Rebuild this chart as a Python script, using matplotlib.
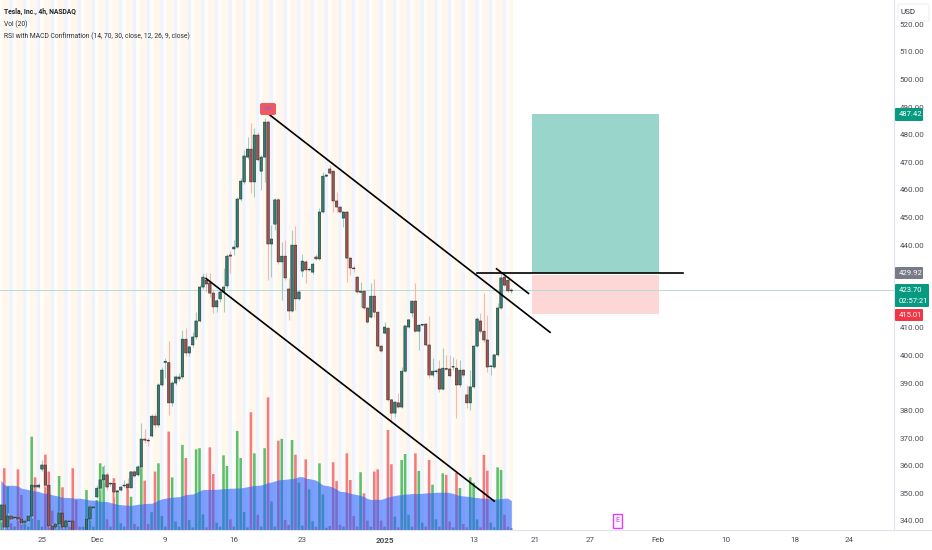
import matplotlib
matplotlib.use("Agg")
import matplotlib.pyplot as plt
from matplotlib.patches import Rectangle, FancyBboxPatch

plt.rcParams['font.family'] = ['Roboto', 'DejaVu Sans']

# 4h bars
opens = [340.4, 345.8, 337.8, 341.8, 341.1, 341.4, 340.7, 339.5, 340.0, 341.8,
         353.0, 352.3, 358.8, 360.3, 353.0, 338.2, 337.8, 338.9, 342.9, 337.8,
         340.0, 340.0, 336.0, 335.0, 334.5, 336.4, 340.7, 344.7, 348.7, 351.9,
         354.9, 356.7, 353.4, 353.7, 350.5, 351.2, 352.7, 353.4, 352.0, 357.8,
         356.7, 359.6, 369.7, 369.3, 370.8, 378.0, 374.8, 389.3, 397.5, 397.4,
         382.8, 390.0, 391.5, 392.2, 405.9, 400.9, 403.8, 406.7, 412.5, 424.8,
         427.3, 426.3, 422.6, 417.6, 420.5, 423.0, 425.2, 436.4, 438.6, 439.3,
         456.7, 462.9, 471.9, 474.8, 462.9, 479.9, 466.8, 471.9, 484.6, 440.4,
         447.6, 456.4, 433.9, 436.0, 424.1, 416.1, 440.0, 420.5, 430.6, 433.9,
         431.0, 430.2, 435.7, 435.0, 452.0, 465.0, 467.6, 466.8, 456.0, 453.8,
         449.8, 452.0, 435.3, 431.7, 428.4, 422.9, 423.3, 417.2, 413.9, 421.5,
         415.7, 403.4, 408.1, 409.9, 383.9, 379.1, 382.8, 381.3, 394.3, 410.3,
         415.4, 419.7, 408.8, 411.0, 411.4, 403.8, 392.9, 394.1, 395.1, 387.8,
         395.3, 395.1, 395.8, 395.4, 389.3, 394.7, 385.7, 382.8, 388.6, 403.4,
         412.5, 408.8, 405.6, 396.0, 395.8, 400.2, 417.2, 428.4, 427.3, 423.4]
highs = [346.5, 346.2, 342.9, 342.2, 341.8, 341.8, 341.1, 340.4, 342.5, 353.4,
         353.7, 353.7, 362.1, 361.0, 353.7, 338.9, 339.6, 343.6, 343.3, 340.4,
         340.4, 340.4, 336.4, 335.4, 335.6, 341.1, 345.4, 345.4, 353.1, 355.6,
         360.3, 357.8, 354.2, 354.5, 351.2, 352.7, 354.9, 355.6, 358.1, 358.5,
         360.3, 375.5, 373.3, 370.0, 378.7, 379.1, 390.0, 395.8, 399.1, 405.2,
         390.7, 392.9, 393.6, 409.2, 409.9, 403.6, 408.5, 415.6, 425.5, 429.9,
         429.9, 429.9, 424.1, 420.5, 423.7, 431.7, 436.7, 437.9, 441.9, 457.4,
         464.3, 474.5, 479.2, 484.3, 482.4, 481.0, 472.6, 486.1, 485.3, 447.3,
         457.0, 457.0, 441.1, 441.9, 428.1, 445.5, 446.9, 423.7, 436.8, 434.6,
         432.0, 433.8, 436.8, 453.4, 466.5, 465.8, 469.0, 467.2, 459.2, 454.2,
         452.4, 452.4, 435.7, 432.8, 428.8, 426.6, 423.7, 417.6, 426.3, 427.7,
         416.1, 403.8, 412.1, 410.3, 384.3, 383.5, 386.4, 395.8, 411.1, 413.3,
         420.1, 426.3, 411.4, 411.7, 411.8, 414.3, 399.1, 395.0, 398.3, 402.7,
         400.2, 400.2, 399.4, 398.7, 398.3, 395.1, 389.3, 394.7, 403.8, 413.9,
         415.4, 422.6, 414.7, 396.6, 400.6, 419.0, 429.9, 429.2, 427.7, 424.4]
lows = [339.6, 337.0, 337.5, 340.3, 340.7, 340.3, 338.9, 339.2, 339.6, 341.1,
        351.9, 351.9, 358.1, 352.3, 337.8, 336.0, 337.4, 338.5, 337.4, 337.4,
        339.6, 336.0, 334.8, 334.2, 334.2, 336.0, 340.4, 344.4, 348.4, 351.2,
        354.2, 351.2, 352.7, 348.7, 350.1, 350.9, 352.3, 351.6, 351.9, 355.9,
        356.3, 359.2, 368.3, 367.0, 370.4, 373.7, 374.0, 388.9, 391.8, 378.4,
        381.8, 389.3, 390.7, 391.5, 399.8, 399.8, 403.1, 406.0, 412.1, 424.1,
        423.0, 421.2, 415.4, 415.8, 419.4, 415.8, 424.5, 429.9, 436.4, 438.9,
        456.0, 462.2, 471.2, 458.9, 457.4, 470.5, 460.0, 462.9, 427.3, 428.4,
        445.5, 433.2, 420.1, 427.3, 412.8, 415.8, 416.5, 420.1, 428.4, 426.3,
        430.5, 429.5, 434.6, 434.6, 451.6, 464.6, 465.8, 452.0, 452.0, 451.6,
        446.6, 426.6, 429.2, 430.2, 422.6, 417.6, 416.8, 411.7, 413.4, 413.9,
        403.0, 401.2, 407.7, 383.5, 375.5, 377.7, 381.0, 381.0, 393.9, 409.9,
        413.9, 408.4, 402.0, 410.6, 403.4, 391.8, 392.2, 393.6, 386.8, 387.5,
        394.6, 392.2, 394.7, 377.3, 388.6, 392.2, 381.0, 380.2, 388.2, 403.0,
        408.1, 404.9, 394.0, 392.9, 395.4, 399.8, 416.8, 425.1, 423.0, 422.6]
closes = [345.8, 337.8, 341.8, 340.7, 341.4, 340.7, 339.3, 340.0, 341.8, 353.0,
          352.3, 353.0, 360.3, 353.0, 338.2, 336.7, 338.9, 342.9, 337.8, 340.0,
          339.8, 336.7, 335.2, 334.6, 335.3, 340.7, 345.1, 345.1, 351.9, 354.9,
          356.7, 352.3, 353.7, 350.5, 350.9, 352.3, 353.0, 352.0, 357.8, 356.3,
          359.6, 369.7, 369.3, 369.0, 378.0, 374.8, 389.3, 394.7, 397.9, 382.8,
          390.0, 392.2, 392.2, 405.9, 400.9, 403.1, 406.7, 412.5, 424.8, 428.4,
          425.9, 422.6, 417.6, 419.8, 423.0, 424.8, 436.0, 436.0, 439.3, 456.7,
          463.2, 472.3, 474.8, 462.9, 479.9, 470.9, 471.9, 484.6, 440.4, 442.2,
          456.4, 433.9, 436.0, 428.1, 416.1, 440.0, 420.5, 423.0, 434.2, 431.0,
          431.2, 433.1, 435.0, 452.0, 465.0, 465.4, 466.1, 456.0, 453.8, 452.0,
          452.0, 435.3, 431.7, 431.4, 423.0, 423.3, 417.2, 412.1, 421.5, 415.7,
          403.4, 401.6, 410.3, 383.9, 379.1, 383.1, 381.3, 394.3, 410.7, 412.9,
          419.7, 408.8, 411.0, 411.3, 403.8, 392.9, 394.3, 394.4, 387.8, 395.4,
          395.0, 392.6, 395.9, 389.3, 394.7, 392.9, 382.8, 388.6, 403.4, 413.2,
          408.8, 405.6, 395.8, 396.2, 400.2, 417.2, 428.1, 425.5, 423.4, 423.7]

volumes = [6.8, 27.8, 19.5, 3.0, 1.5, 27.3, 15.8, 3.0, 1.5, 42.0,
           23.7, 4.5, 1.5, 33.9, 26.3, 8.7, 1.5, 24.3, 19.2, 4.5,
           1.5, 27.8, 13.5, 1.5, 1.5, 18.0, 10.5, 1.5, 13.5, 30.0,
           28.5, 4.8, 1.5, 23.3, 17.3, 3.0, 1.5, 19.5, 15.0, 2.7,
           1.5, 28.5, 22.2, 2.7, 8.0, 26.3, 30.0, 6.3, 1.5, 44.3,
           23.7, 3.8, 1.5, 38.3, 32.4, 4.5, 1.2, 36.3, 36.8, 7.0,
           1.2, 37.2, 25.2, 3.3, 1.5, 33.6, 28.8, 4.8, 1.5, 44.6,
           32.4, 8.1, 1.2, 53.0, 34.5, 6.8, 1.5, 36.8, 59.7, 12.8,
           1.5, 40.2, 41.0, 4.5, 2.3, 40.5, 33.9, 21.3, 2.0, 31.8,
           18.3, 3.9, 1.5, 30.0, 16.0, 1.0, 1.8, 30.5, 22.0, 2.3,
           1.5, 34.5, 22.5, 6.3, 1.5, 26.0, 16.5, 4.2, 1.5, 26.3,
           27.3, 4.2, 1.5, 45.0, 29.6, 6.0, 1.2, 31.5, 34.2, 6.8,
           1.5, 34.5, 26.6, 3.3, 1.5, 31.5, 20.4, 4.8, 1.5, 25.5,
           24.8, 3.8, 1.2, 25.8, 18.9, 2.7, 1.2, 23.7, 21.3, 4.8,
           1.2, 33.8, 26.7, 3.3, 1.2, 28.2, 27.0, 6.8, 1.5, 0.8]
vol_ma = [22.5, 20.3, 20.1, 20.1, 20.1, 19.8, 18.8, 18.5, 18.2, 17.7,
          17.6, 17.3, 16.8, 16.5, 16.4, 15.8, 15.5, 15.2, 14.7, 14.6,
          14.6, 14.4, 14.3, 14.3, 14.1, 13.8, 13.5, 13.4, 13.2, 12.9,
          12.8, 12.8, 12.3, 12.0, 11.6, 11.4, 11.3, 11.1, 11.1, 11.3,
          11.6, 11.7, 11.9, 12.0, 12.0, 12.6, 13.5, 14.0, 14.3, 14.6,
          14.7, 14.9, 15.0, 15.5, 15.9, 16.1, 16.2, 16.8, 17.7, 18.2,
          18.2, 18.3, 18.3, 18.3, 18.5, 18.6, 18.6, 18.8, 18.8, 18.9,
          18.9, 19.2, 19.5, 19.8, 20.0, 20.1, 20.3, 20.7, 21.3, 21.6,
          22.1, 22.5, 22.7, 22.8, 23.0, 23.1, 23.4, 24.0, 24.0, 23.3,
          23.1, 22.8, 22.4, 21.3, 20.3, 20.0, 19.8, 19.2, 18.3, 17.4,
          17.3, 17.0, 16.5, 16.2, 15.9, 15.6, 15.0, 14.1, 13.8, 13.8,
          13.8, 13.8, 14.3, 14.9, 15.2, 15.5, 15.8, 15.9, 16.2, 16.2,
          16.4, 16.4, 16.4, 16.5, 16.7, 16.8, 16.8, 17.0, 17.0, 17.0,
          17.0, 16.8, 16.5, 15.9, 15.5, 15.3, 15.2, 15.0, 14.7, 14.6,
          14.4, 14.3, 14.1, 14.1, 14.0, 14.0, 14.1, 14.3, 14.3, 13.2]

date_pos = [12, 28, 48, 68, 88, 112, 138, 155.9, 172, 191.8, 211.7, 231.8, 247.6]
date_labels = ['25', 'Dec', '9', '16', '23', '2025', '13', '21', '27', 'Feb', '10', '18', '24']
# 420 and 430 sit behind the price tags
price_ticks = [340, 350, 360, 370, 380, 390, 400, 410, 440, 450, 460, 470,
               480, 490, 500, 510, 520]

entry = 429.92
target = 487.42
stop = 415.01
last_price = 423.70

fig = plt.figure(figsize=(9.32, 5.5), dpi=100)
pos = [0, 20 / 550, 894 / 932, 530 / 550]
bars = list(range(len(closes)))
xlims = (-0.245, 260.7)

# day stripes on a bottom axis, they stay under the volumes
bg = fig.add_axes(pos, zorder=0)
bg.set_xlim(xlims)
bg.axis('off')
for i in bars:
    if i % 4 == 3:
        s = bg.axvspan(i - 0.5, i + 0.5, color='#eff3ff', lw=0)
    elif i % 4 == 0:
        s = bg.axvspan(i - 0.5, i + 0.5, color='#fffcf8', lw=0)
    else:
        s = bg.axvspan(i - 0.5, i + 0.5, color='#fff7ec', lw=0)
    s.set_snap(False)

# volume pane
vol = fig.add_axes(pos, zorder=1)
vol.set_xlim(xlims)
vol.set_ylim(0, 238.5)
vol.axis('off')
vol_colors = ['#5cc06f' if c >= o else '#f27c80' for o, c in zip(opens, closes)]
vol.bar(bars, volumes, width=0.75, color=vol_colors, lw=0, zorder=1, snap=False)
vol.fill_between(bars, vol_ma, 0, color='#2962ff', alpha=0.6, lw=0, zorder=2)

ax = fig.add_axes(pos, zorder=2)
ax.patch.set_visible(False)
ax.set_xlim(xlims)
ax.set_ylim(336.725, 528.85)

# long position boxes
ax.add_patch(Rectangle((155.0, entry), 37.0, target - entry, color='#99d5cb', lw=0, zorder=2))
ax.add_patch(Rectangle((155.0, stop), 37.0, 429.0 - stop, color='#fdd6d6', lw=0, zorder=2))

ax.axhline(last_price, color='#b4dcd6', lw=0.7, zorder=2)

# candles
for i in bars:
    up = closes[i] >= opens[i]
    ax.vlines(i, lows[i], highs[i], color='#9ccfc6' if up else '#f3b9b5', lw=0.8, zorder=3)
    ax.bar(i, abs(closes[i] - opens[i]), bottom=min(opens[i], closes[i]), width=0.72,
           color='#2f7f73' if up else '#a8504f', edgecolor='#26302f', lw=0.4, zorder=4, snap=False)

# hand drawn trend lines
ax.plot([76.6, 160.3], [489.0, 408.4], color='black', lw=1.2, zorder=5)
ax.plot([59.9, 144.0], [427.9, 347.2], color='black', lw=1.2, zorder=5)
ax.plot([144.7, 154.0], [431.4, 422.5], color='black', lw=1.2, zorder=5)
ax.plot([138.9, 199.1], [entry, entry], color='black', lw=1.2, zorder=5)

ax.spines[['top', 'left', 'bottom']].set_visible(False)
ax.spines['right'].set_color('#e0e3eb')
ax.yaxis.tick_right()
ax.set_yticks(price_ticks)
ax.set_yticklabels(['%.2f' % p for p in price_ticks])
ax.set_xticks(date_pos)
ax.set_xticklabels(date_labels)
ax.tick_params(axis='y', length=0, labelsize=5.8, labelcolor='#4a4d55', pad=4)
ax.tick_params(axis='x', length=0, labelsize=5.8, labelcolor='#4a4d55', pad=5)
ax.get_xticklabels()[5].set_fontweight('bold')

# overlay in pixel coordinates for the legend, tags and markers
top = fig.add_axes([0, 0, 1, 1], zorder=10)
top.set_xlim(0, 932)
top.set_ylim(550, 0)
top.axis('off')
top.plot([0, 932], [530, 530], color='#e0e3eb', lw=0.8)

top.text(4, 12, 'Tesla, Inc., 4h, NASDAQ', fontsize=4.9, fontweight='bold', color='#1f2430', va='center')
top.text(4, 24, 'Vol (20)', fontsize=4.9, color='#2a2e39', va='center')
top.text(4, 36, 'RSI with MACD Confirmation (14, 70, 30, close, 12, 26, 9, close)',
         fontsize=4.9, color='#2a2e39', va='center')

top.add_patch(FancyBboxPatch((898, 4), 31, 17, boxstyle='round,pad=0,rounding_size=2',
                             fc='white', ec='#eceef2', lw=0.7))
top.text(908, 12.5, 'USD', fontsize=5.8, color='#2a2e39', ha='center', va='center')


def tag(y0, y1, x1, color, lines):
    top.add_patch(FancyBboxPatch((895, y0), x1 - 895, y1 - y0, boxstyle='round,pad=0,rounding_size=1',
                                 fc=color, ec='none'))
    h = (y1 - y0) / len(lines)
    for n, s in enumerate(lines):
        top.text(899, y0 + h * (n + 0.5), s, fontsize=5.5, color='white', va='center')


tag(108, 121, 923, '#089981', ['487.42'])
tag(267, 279, 923, '#787b86', ['429.92'])
tag(284, 307, 929, '#089981', ['423.70', '02:57:21'])
tag(309, 321, 923, '#f23645', ['415.01'])

# sell marker at the top and earnings flag at the bottom
top.add_patch(FancyBboxPatch((260, 103), 16, 12, boxstyle='round,pad=0,rounding_size=2',
                             fc='#ef5a62', ec='none'))
top.text(268, 109, 'Sell', fontsize=4, color='#8a62d8', ha='center', va='center')
top.add_patch(Rectangle((613, 514), 9, 13.5, fc='#fdf3ff', ec='#e040fb', lw=1))
top.text(617.5, 521, 'E', fontsize=5, color='#c040e0', ha='center', va='center')

fig.savefig('out.png', dpi=100)
